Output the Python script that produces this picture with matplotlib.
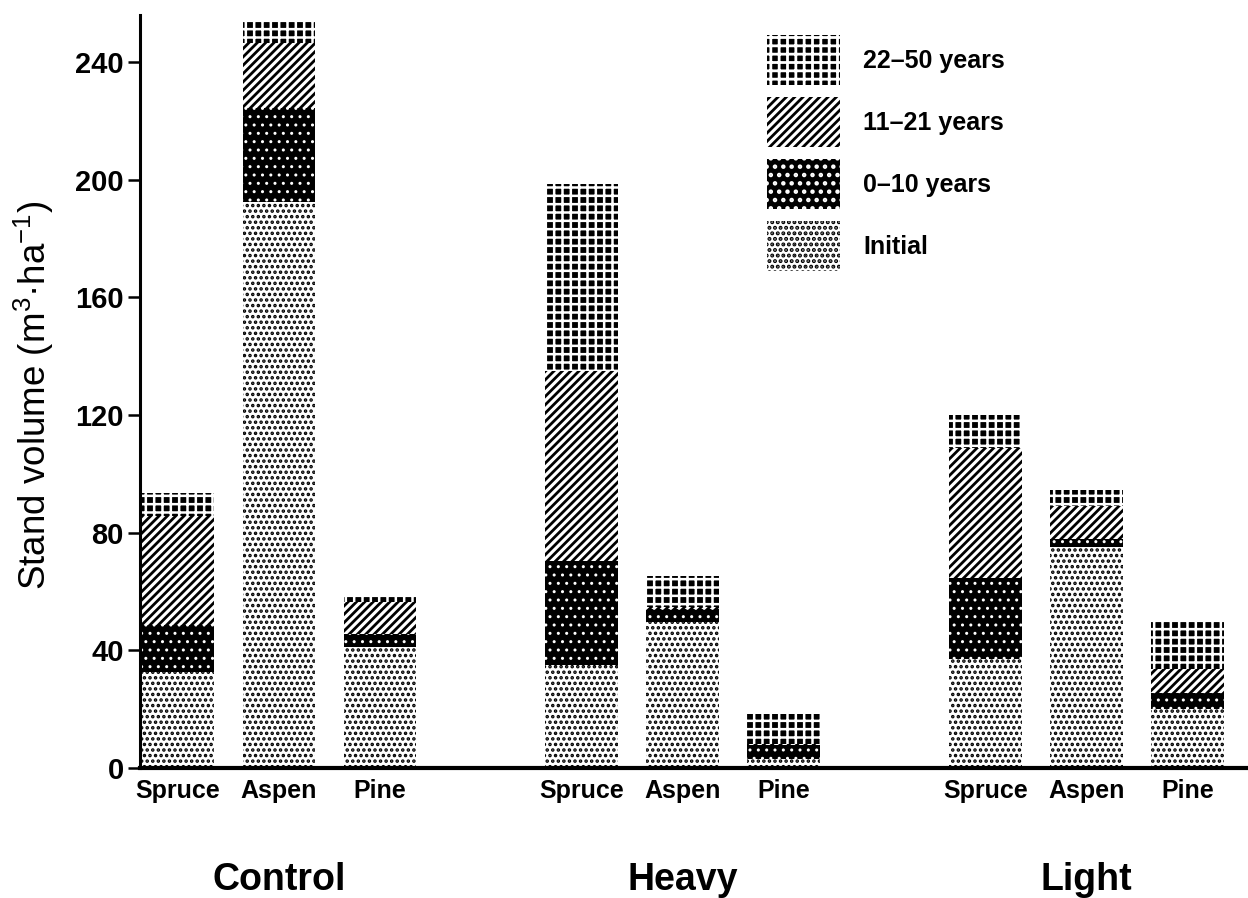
import numpy as np
import matplotlib
matplotlib.use("Agg")
import matplotlib.pyplot as plt
from matplotlib.patches import Patch
from matplotlib.transforms import blended_transform_factory

plt.rcParams['font.family'] = ['Liberation Sans', 'DejaVu Sans']
plt.rcParams['mathtext.fontset'] = 'custom'
plt.rcParams['mathtext.rm'] = 'Liberation Sans'
plt.rcParams['mathtext.it'] = 'Liberation Sans'
plt.rcParams['hatch.linewidth'] = 2.0

# Stand volume (m3/ha) by treatment and species, split by growth period
treatments = ['Control', 'Heavy', 'Light']
species = ['Spruce', 'Aspen', 'Pine']
initial      = [32.5, 192.5, 41.0, 35.0, 49.5, 3.0, 37.0, 75.0, 20.2]
growth_0_10  = [16.0, 32.0, 4.6, 35.5, 4.7, 4.8, 27.5, 2.9, 5.3]
growth_11_21 = [37.3, 22.0, 10.8, 64.3, 0.5, 0.5, 44.4, 11.3, 8.3]
growth_22_50 = [7.7, 7.3, 2.0, 63.7, 10.4, 9.9, 11.1, 5.4, 16.4]

# fill style of each growth period: (values, label, patch style, hatch line width)
layers = [
    (initial, 'Initial', dict(facecolor='white', edgecolor='black', hatch='...'), 1.7),
    (growth_0_10, '0\u201310 years', dict(facecolor='black', edgecolor='white', hatch='..'), 1.0),
    (growth_11_21, '11\u201321 years', dict(facecolor='white', edgecolor='black', hatch='////'), 2.0),
    (growth_22_50, '22\u201350 years', dict(facecolor='black', edgecolor='white', hatch='++'), 1.8),
]

# bar positions: three species per treatment, one empty slot between groups
x = np.array([g * 4 + s for g in range(len(treatments)) for s in range(len(species))], dtype=float)
width = 0.72

fig = plt.figure(figsize=(12.48, 8.98), dpi=100)
ax = fig.add_axes([0.1122, 0.1448, 0.8878, 0.8385])

bottom = np.zeros(len(x))
handles = []
for vals, label, style, hlw in layers:
    vals = np.asarray(vals)
    with plt.rc_context({'hatch.linewidth': hlw}):
        ax.bar(x, vals, width=width, bottom=bottom, linewidth=0, **style)
        handles.append(Patch(linewidth=0, **style))
    bottom += vals

ax.set_xlim(-0.377, 10.6)
ax.set_ylim(0, 256)
ax.set_yticks(np.arange(0, 241, 40))
ax.set_xticks(x)
ax.set_xticklabels(species * len(treatments), fontsize=18, fontweight='bold')
for lab in ax.get_yticklabels():
    lab.set_fontweight('bold')
ax.tick_params(axis='y', labelsize=21, length=8.6, width=1.8, pad=3, direction='out')
ax.tick_params(axis='x', length=0, pad=8)

for side in ('top', 'right'):
    ax.spines[side].set_visible(False)
ax.spines['left'].set_linewidth(2.2)
ax.spines['bottom'].set_linewidth(3.0)

ax.set_ylabel('Stand volume (m$^{3}$\u00b7ha$^{-1}$)', fontsize=26.5)
ax.yaxis.set_label_coords(-0.076, 0.495)

# treatment names centred under each group
trans = blended_transform_factory(ax.transData, ax.transAxes)
for g, name in enumerate(treatments):
    ax.text(g * 4 + 1, -0.162, name, transform=trans, ha='center', va='baseline',
            fontsize=27, fontweight='bold')

labels = [layer[1] for layer in layers][::-1]
leg = fig.legend(handles[::-1], labels, loc='upper left', bbox_to_anchor=(0.6146, 0.961),
                 frameon=False, prop=dict(size=18, weight='bold'),
                 handlelength=2.92, handleheight=2.7, labelspacing=0.48,
                 handletextpad=0.92, borderpad=0, borderaxespad=0)

fig.savefig('out.png', dpi=100)
